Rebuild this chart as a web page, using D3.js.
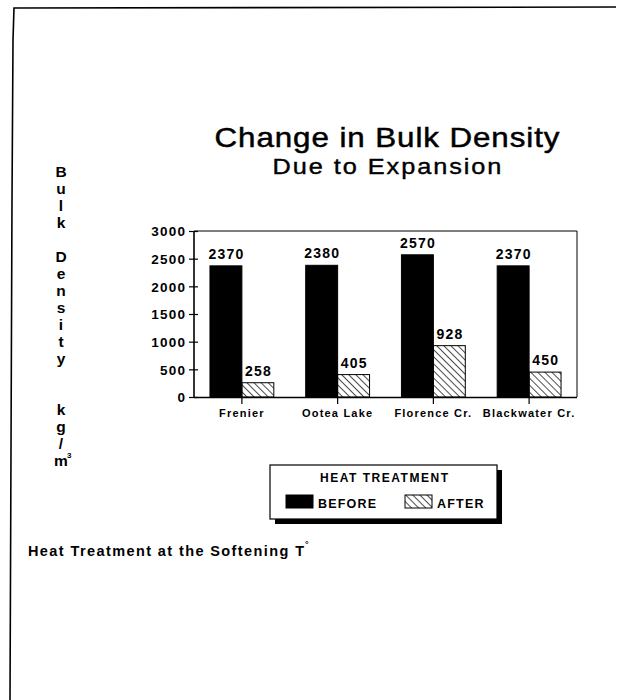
<!DOCTYPE html>
<html>
<head>
<meta charset="utf-8">
<script src="https://cdn.jsdelivr.net/npm/d3@7"></script>
<style>
  body { margin: 0; background: #fff; }
  svg { display: block; font-family: "Liberation Sans", Arial, sans-serif; }
  .tick text { font-weight: bold; fill: #000; }
</style>
</head>
<body>
<svg width="619" height="700"></svg>
<script>
// data
var categories = ["Frenier", "Ootea Lake", "Florence Cr.", "Blackwater Cr."];
var before = [2370, 2380, 2570, 2370];
var after = [258, 405, 928, 450];
var yTicks = [0, 500, 1000, 1500, 2000, 2500, 3000];
var seriesNames = ["BEFORE", "AFTER"];

var svg = d3.select("svg");

svg.append("rect").attr("width", 619).attr("height", 700).attr("fill", "#fff");

// hatch pattern for the AFTER bars ( \\\ direction )
var defs = svg.append("defs");
defs.append("pattern")
  .attr("id", "hatch")
  .attr("patternUnits", "userSpaceOnUse")
  .attr("width", 5).attr("height", 5)
  .attr("patternTransform", "rotate(-45)")
  .append("line")
  .attr("x1", 0).attr("y1", 0).attr("x2", 0).attr("y2", 5)
  .attr("stroke", "#000").attr("stroke-width", 1.4);

// page border (scanned sheet edge)
svg.append("path")
  .attr("d", "M10,700 L11,450 L12,200 L13,40 L14,8 L616,7")
  .attr("fill", "none").attr("stroke", "#000").attr("stroke-width", 1.6);

// titles, widened like the original typeface
svg.append("text")
  .attr("transform", "translate(387,147) scale(1.12,1)")
  .attr("text-anchor", "middle")
  .attr("font-size", 28)
  .attr("stroke", "#000").attr("stroke-width", 0.5)
  .attr("textLength", 308).attr("lengthAdjust", "spacing")
  .text("Change in Bulk Density");

svg.append("text")
  .attr("transform", "translate(387,174) scale(1.15,1)")
  .attr("text-anchor", "middle")
  .attr("font-size", 22)
  .attr("stroke", "#000").attr("stroke-width", 0.4)
  .attr("textLength", 199).attr("lengthAdjust", "spacing")
  .text("Due to Expansion");

// vertical stacked y label
var yLabel = "Bulk Density  kg/m".split("");
var yStep = 17;
svg.append("g").selectAll("text")
  .data(yLabel)
  .enter().append("text")
  .attr("x", 61)
  .attr("y", (d, i) => 177 + i * yStep)
  .attr("text-anchor", "middle")
  .attr("font-size", 15.5)
  .attr("font-weight", "bold")
  .text(d => d.trim());
svg.append("text")
  .attr("x", 67).attr("y", 177 + (yLabel.length - 1) * yStep - 8)
  .attr("font-size", 8).attr("font-weight", "bold")
  .text("3");

// plot
var mLeft = 194, mRight = 577, mTop = 231, mBottom = 397;

var x0 = d3.scaleBand()
  .domain(categories)
  .range([mLeft, mRight])
  .paddingInner(0.333)
  .paddingOuter(0.1667);

var x1 = d3.scaleBand()
  .domain(seriesNames)
  .range([0, x0.bandwidth()]);

var y = d3.scaleLinear()
  .domain([0, 3000])
  .range([mBottom, mTop]);

var g = svg.append("g");

// frame
g.append("path")
  .attr("d", "M" + mLeft + "," + mTop + "H" + mRight + "V" + mBottom)
  .attr("fill", "none").attr("stroke", "#000").attr("stroke-width", 1);
g.append("line")
  .attr("x1", mLeft).attr("x2", mRight).attr("y1", mBottom + 0.5).attr("y2", mBottom + 0.5)
  .attr("stroke", "#000").attr("stroke-width", 1.6);
g.append("line")
  .attr("x1", mLeft).attr("x2", mLeft).attr("y1", mTop).attr("y2", mBottom)
  .attr("stroke", "#000").attr("stroke-width", 1.6);

// y axis
var yAxis = g.append("g")
  .attr("transform", "translate(" + mLeft + ",0)")
  .call(d3.axisLeft(y).tickValues(yTicks).tickFormat(d3.format("d")).tickSize(5).tickPadding(4));
yAxis.select(".domain").remove();
yAxis.selectAll(".tick line").attr("x1", 4).attr("stroke-width", 1.2);
yAxis.selectAll(".tick text")
  .attr("font-size", 13.5)
  .attr("letter-spacing", 1.2)
  .attr("dx", 1.2)
  .attr("dy", "0.36em");

// x axis
var xAxis = g.append("g")
  .attr("transform", "translate(0," + (mBottom + 1) + ")")
  .call(d3.axisBottom(x0).tickSize(6).tickPadding(5));
xAxis.select(".domain").remove();
xAxis.selectAll(".tick line").attr("stroke-width", 1.2);
xAxis.selectAll(".tick text")
  .attr("font-size", 11)
  .attr("letter-spacing", 1.2);

// bars
var rows = categories.map((c, i) => ({ cat: c, vals: [
  { key: "BEFORE", value: before[i] },
  { key: "AFTER", value: after[i] }
]}));

var groups = g.selectAll(".grp")
  .data(rows)
  .enter().append("g")
  .attr("class", "grp")
  .attr("transform", d => "translate(" + x0(d.cat) + ",0)");

groups.selectAll("rect")
  .data(d => d.vals)
  .enter().append("rect")
  .attr("x", d => x1(d.key))
  .attr("y", d => y(d.value))
  .attr("width", x1.bandwidth())
  .attr("height", d => y(0) - y(d.value))
  .attr("fill", d => d.key == "BEFORE" ? "#000" : "url(#hatch)")
  .attr("stroke", "#000")
  .attr("stroke-width", 1);

groups.selectAll("text.val")
  .data(d => d.vals)
  .enter().append("text")
  .attr("class", "val")
  .attr("x", d => x1(d.key) + x1.bandwidth() / 2 + 0.6)
  .attr("y", d => y(d.value) - 7)
  .attr("text-anchor", "middle")
  .attr("font-size", 14)
  .attr("font-weight", "bold")
  .attr("letter-spacing", 1.2)
  .text(d => d.value);

// legend
var lg = svg.append("g").attr("transform", "translate(270,465)");
lg.append("rect")
  .attr("x", 5).attr("y", 5).attr("width", 227).attr("height", 54)
  .attr("fill", "#000");
lg.append("rect")
  .attr("x", 0).attr("y", 0).attr("width", 227).attr("height", 54)
  .attr("fill", "#fff").attr("stroke", "#000").attr("stroke-width", 1.2);
lg.append("text")
  .attr("x", 114).attr("y", 17)
  .attr("text-anchor", "middle")
  .attr("font-size", 12).attr("font-weight", "bold")
  .attr("textLength", 128).attr("lengthAdjust", "spacing")
  .text("HEAT TREATMENT");

var items = lg.selectAll(".item")
  .data(seriesNames)
  .enter().append("g")
  .attr("class", "item")
  .attr("transform", (d, i) => "translate(" + (16 + i * 119) + ",30)");
items.append("rect")
  .attr("width", 27).attr("height", 13)
  .attr("fill", d => d == "BEFORE" ? "#000" : "url(#hatch)")
  .attr("stroke", "#000").attr("stroke-width", 1);
items.append("text")
  .attr("x", 32).attr("y", 13)
  .attr("font-size", 12.5).attr("font-weight", "bold")
  .attr("letter-spacing", 1.2)
  .text(d => d);

// footnote
svg.append("text")
  .attr("x", 28).attr("y", 556)
  .attr("font-size", 14.5).attr("font-weight", "bold")
  .attr("textLength", 276).attr("lengthAdjust", "spacing")
  .text("Heat Treatment at the Softening T");
svg.append("text")
  .attr("x", 305).attr("y", 547)
  .attr("font-size", 9).attr("font-weight", "bold")
  .text("°");
</script>
</body>
</html>
